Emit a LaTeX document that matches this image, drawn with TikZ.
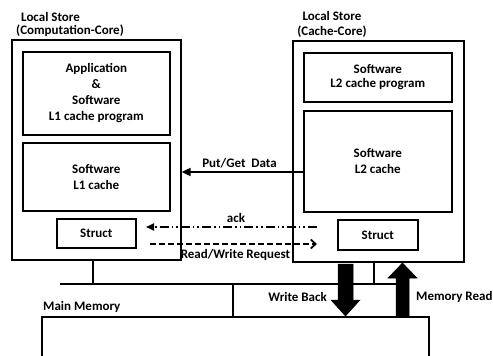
\documentclass[tikz,border=0pt]{standalone}
\usepackage{fontspec}
\setmainfont{Carlito}
\usetikzlibrary{arrows.meta}
\newcommand{\lblfont}{\fontsize{13}{16}\selectfont\bfseries}
\newcommand{\tightfont}{\fontsize{13}{14.5}\selectfont\bfseries}
\begin{document}
\begin{tikzpicture}[x=1pt,y=-1pt,
  box/.style={draw, line width=1.6pt, inner sep=0pt, align=center, font=\lblfont, anchor=north west},
  lbl/.style={inner sep=0pt, font=\lblfont},
  wire/.style={line width=1.1pt},
  conn/.style={line width=1.7pt},
  fat/.style={fill=black, draw=black, line width=0.5pt}]
\useasboundingbox (0,0) rectangle (493,356);

% labels above the stores
\node[lbl, anchor=west] (lsA) at (21,17) {Local Store};
\node[lbl, anchor=west] (lsB) at (16,31) {(Computation-Core)};
\node[lbl, align=center, font=\tightfont] (lsC) at (332,24.5) {Local Store\\(Cache-Core)};

% left local store
\node[box, minimum width=169, minimum height=220] (left) at (11,39) {};
\node[box, minimum width=147, minimum height=83] (app) at (22,51) {Application\\\&\\Software\\L1 cache program};
\node[box, minimum width=147, minimum height=68] (l1) at (22,142) {Software\\L1 cache};
\node[box, minimum width=79, minimum height=29] (sl) at (56,218) {Struct};

% right local store
\node[box, minimum width=171, minimum height=221] (right) at (292,40) {};
\node[box, minimum width=148, minimum height=49, font=\tightfont] (l2p) at (303,52) {Software\\L2 cache program};
\node[box, minimum width=148, minimum height=101] (l2) at (303,110) {Software\\L2 cache};
\node[box, minimum width=80, minimum height=30] (sr) at (337,219) {Struct};

% Put/Get
\draw[conn, -{Triangle[length=9pt,width=8pt]}] (l2.west |- 0,172) -- (left.east |- 0,172);
\node[lbl] (pg) at (239.5,163) {Put/Get\ \ Data};

% ack
\coordinate (ackS) at (317,227);
\coordinate (ackE) at (146,227);
\draw[conn, dash pattern=on 9pt off 3pt on 1.6pt off 3pt on 1.6pt off 3pt, -{Triangle[length=8pt,width=7pt]}] (ackS) -- (ackE);
\node[lbl] (ack) at (236,218) {ack};

% read/write request
\coordinate (rwS) at (150,244);
\coordinate (rwE) at (317,244);
\draw[conn, dash pattern=on 6pt off 3pt, -{Straight Barb[length=5pt,width=9pt]}] (rwS) -- (rwE);
\node[lbl] (rw) at (235.5,255) {Read/Write Request};

% bus
\coordinate (b1) at (93,284);
\coordinate (b0) at (60,284);
\coordinate (b2) at (374,284);
\coordinate (b3) at (396,284);
\coordinate (bm) at (233,284);
\draw[wire] (left.south -| b1) -- (b1);
\draw[wire] (right.south -| b2) -- (b2);
\draw[wire] (b0) -- (b3);

% main memory
\coordinate (mmL) at (42,356);
\coordinate (mmTL) at (42,317);
\coordinate (mmTR) at (429,317);
\coordinate (mmR) at (429,356);
\draw[line width=1.6pt] (mmL) -- (mmTL) -- (mmTR) -- (mmR);
\draw[wire] (bm) -- (bm |- mmTL);
\node[lbl, anchor=west] (mm) at (43,307) {Main Memory};

% write back / memory read
\draw[fat] (338,264) -- (353,264) -- (353,300) -- (360,300) -- (345.5,316) -- (331,300) -- (338,300) -- cycle;
\draw[fat] (396,316) -- (409,316) -- (409,278) -- (417,278) -- (402.5,263) -- (388,278) -- (396,278) -- cycle;
\node[lbl, anchor=east] (wb) at (327,297) {Write Back};
\node[lbl, anchor=west] (mr) at (416,297) {Memory Read};
\end{tikzpicture}
\end{document}
